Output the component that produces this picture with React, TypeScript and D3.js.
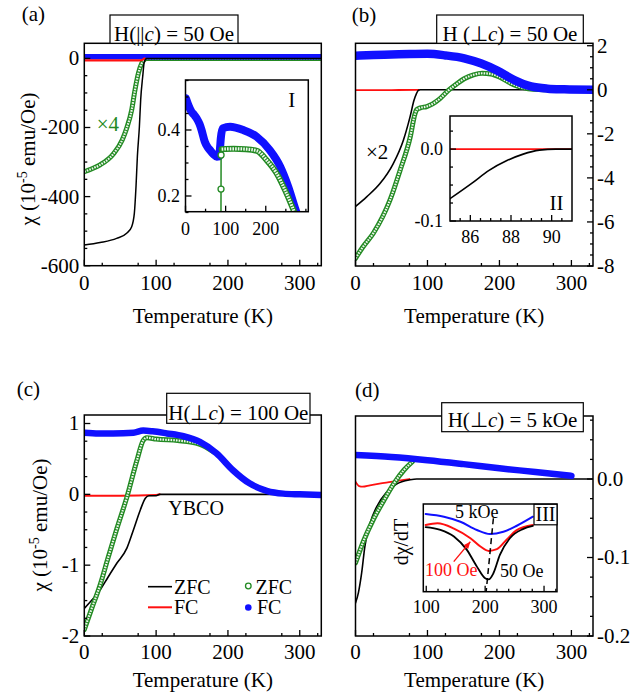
import { useEffect, useRef } from "react"
import * as d3 from "d3"

// ---- panel (a): H || c = 50 Oe ----
const aZfcT = [0, 22, 45, 59, 66, 69.7, 72, 73.9, 76.7, 78.5, 81.3, 83.6, 86.9, 100, 200, 330]
const aZfc = [-540, -533, -521, -506, -487, -448, -371, -284, -198, -120, -53, -10, 0, 0, 0, 0]
const aZfc4T = [0, 10, 22, 41, 52.8, 59, 66, 70.6, 75.3, 80, 83.3, 86, 100, 200, 330]
const aZfc4 = [-328, -320, -308, -275, -236, -202, -149, -91, -43, -14, -4, 0, 0, 0, 0]
const aFcT = [0, 40, 78, 84]
const aFc = [-6, -6, -6, 0]
const aFc2T = [0, 50, 100, 150, 200, 250, 300, 330]
const aFc2 = [5, 5, 5, 5, 5, 5, 5, 5]
// inset I
const iBlueT = [1, 7, 15, 22, 28, 35, 40, 48, 55, 61, 70, 78, 84, 86, 88, 92.7, 111, 144, 177, 210, 236, 256, 273, 282]
const iBlue = [0.496, 0.476, 0.455, 0.445, 0.435, 0.418, 0.4, 0.365, 0.348, 0.339, 0.326, 0.319, 0.32, 0.345, 0.375, 0.405, 0.41, 0.4, 0.38, 0.339, 0.289, 0.228, 0.163, 0.13]
const iGreenT = [88.3, 88.5, 88.7, 90, 120, 150, 178, 202, 227, 248, 265, 278]
const iGreen = [0.1, 0.221, 0.324, 0.342, 0.343, 0.342, 0.337, 0.309, 0.269, 0.218, 0.17, 0.13]

// ---- panel (b): H perp c = 50 Oe ----
const bBlueT = [0, 25, 50, 75, 100, 125, 151, 174, 197, 220, 244, 267, 290, 330]
const bBlue = [1.55, 1.58, 1.6, 1.62, 1.63, 1.56, 1.43, 1.2, 0.87, 0.45, 0.15, 0.05, 0.02, 0.0]
const bGreenT = [0, 10, 25, 48, 62, 76, 82.6, 85, 90, 99, 117, 129, 140, 151, 164, 176, 188, 200, 212, 225, 240, 255, 270]
const bGreen = [-7.65, -7.15, -6.5, -5.0, -3.65, -2.15, -1.1, -0.9, -0.82, -0.76, -0.41, -0.03, 0.25, 0.5, 0.68, 0.75, 0.72, 0.58, 0.36, 0.16, 0.05, 0.01, 0]
const bZfcT = [0, 15.5, 34, 52.5, 66.4, 75.7, 81.3, 85, 87.5, 90, 200, 330]
const bZfc = [-5.3, -4.86, -4.26, -3.35, -2.3, -1.24, -0.48, -0.15, -0.02, 0, 0, 0]
const bFcT = [0, 30, 60, 88]
const bFc = [-0.02, -0.02, -0.01, 0]
// inset II
const iiFcT = [85, 91]
const iiFc = [0, 0]
const iiZfcT = [85, 86.1, 86.9, 87.8, 88.6, 89.4, 90.2, 91]
const iiZfc = [-0.069, -0.047, -0.03, -0.016, -0.007, -0.0015, 0, 0]

// ---- panel (c): H perp c = 100 Oe ----
const cBlueT = [0, 20, 40, 68.5, 82, 95, 115, 138, 161, 184, 207, 230, 254, 277, 300, 330]
const cBlue = [0.87, 0.86, 0.86, 0.87, 0.9, 0.89, 0.86, 0.82, 0.74, 0.58, 0.34, 0.155, 0.05, 0.01, 0.0, -0.01]
const cGreenT = [0, 10, 22, 33, 45.5, 59.3, 73, 82, 87, 100, 130, 160, 180]
const cGreen = [-1.91, -1.62, -1.28, -0.9, -0.48, -0.04, 0.47, 0.76, 0.8, 0.78, 0.76, 0.71, 0.6]
const cZfcT = [0, 10, 22, 33, 45.5, 59.3, 68.5, 78, 85, 90, 100, 105, 200, 330]
const cZfc = [-1.61, -1.5, -1.35, -1.17, -0.97, -0.76, -0.5, -0.22, -0.056, -0.02, -0.02, 0, 0, 0]
const cFcT = [0, 50, 100, 105]
const cFc = [-0.02, -0.02, -0.01, 0]

// ---- panel (d): H perp c = 5 kOe ----
const dBlueT = [0, 50, 100, 150, 200, 250, 300]
const dBlue = [0.0306, 0.028, 0.024, 0.019, 0.0136, 0.009, 0.004]
const dGreenT = [0, 11.6, 25.6, 39.5, 53.5, 67.4, 79]
const dGreen = [-0.107, -0.078, -0.05, -0.027, -0.0055, 0.0115, 0.022]
const dZfcT = [0, 4, 8.5, 13, 20, 29, 43, 57, 76, 85, 200, 330]
const dZfc = [-0.158, -0.145, -0.12, -0.086, -0.057, -0.036, -0.017, -0.0064, -0.001, 0, 0, 0]
const dFcT = [0, 5, 10, 20, 40, 60, 75]
const dFc = [-0.0034, -0.009, -0.0098, -0.008, -0.005, -0.002, 0]
// inset III, dchi/dT (arb. units)
const iii5kT = [99, 130, 158, 186, 208, 231, 253, 281]
const iii5k = [0.886, 0.855, 0.798, 0.704, 0.658, 0.684, 0.749, 0.855]
const iii100T = [99, 119, 147, 175, 192, 206, 220, 236, 253, 281]
const iii100 = [0.76, 0.78, 0.72, 0.61, 0.515, 0.465, 0.485, 0.59, 0.7, 0.76]
const iii50T = [99, 124, 147, 169, 186, 200, 206, 214, 225, 242, 264, 281]
const iii50 = [0.737, 0.706, 0.63, 0.477, 0.286, 0.153, 0.14, 0.21, 0.42, 0.61, 0.714, 0.75]
const iiiDashT = [214, 201.7]
const iiiDash = [0.837, 0]

const FONT = "'Liberation Serif', 'Times New Roman', serif"
const BLUE = "#1010ff"
const RED = "#ff1010"
const GREEN = "#238a23"
const GREEN_IN = "#eef7ee"

type Box = { x0: number; x1: number; y0: number; y1: number }

export default function App() {
  const ref = useRef<SVGSVGElement>(null)

  useEffect(() => {
    document.body.style.margin = "0"
    const svg = d3.select(ref.current)
    svg.selectAll("*").remove()

    const makePanel = (id: string, b: Box, xd: number[], yd: number[], inset = false) => {
      const x = d3.scaleLinear().domain(xd).range([b.x0, b.x1])
      const y = d3.scaleLinear().domain(yd).range([b.y1, b.y0])
      svg.append("clipPath").attr("id", id).append("rect")
        .attr("x", b.x0).attr("y", b.y0).attr("width", b.x1 - b.x0).attr("height", b.y1 - b.y0)
      const g = svg.append("g")
      if (inset) g.append("rect").attr("x", b.x0).attr("y", b.y0).attr("width", b.x1 - b.x0).attr("height", b.y1 - b.y0).attr("fill", "#fff")
      const data = g.append("g").attr("clip-path", `url(#${id})`)
      return { x, y, g, data, b }
    }
    type P = ReturnType<typeof makePanel>

    const curve = (p: P, t: number[], v: number[], color: string, w: number, c: any = d3.curveMonotoneX, dash?: string) => {
      const line = d3.line<number>().x((d) => p.x(d)).y((_, i) => p.y(v[i])).curve(c)
      const path = p.data.append("path").attr("d", line(t)).attr("fill", "none")
        .attr("stroke", color).attr("stroke-width", w)
        .attr("stroke-linecap", "round").attr("stroke-linejoin", "round")
      if (dash) path.attr("stroke-dasharray", dash).attr("stroke-linecap", "butt")
    }
    // open-circle markers packed densely: green rim with hatched light core
    const greenBand = (p: P, t: number[], v: number[], w: number) => {
      curve(p, t, v, GREEN, w)
      curve(p, t, v, GREEN_IN, Math.max(w - 2.8, 1), d3.curveMonotoneX, "1.6,1.1")
    }

    const frame = (p: P, w = 1.5) => {
      p.g.append("rect").attr("x", p.b.x0).attr("y", p.b.y0)
        .attr("width", p.b.x1 - p.b.x0).attr("height", p.b.y1 - p.b.y0)
        .attr("fill", "none").attr("stroke", "#000").attr("stroke-width", w)
    }

    const xTicks = (p: P, major: number[], minor: number[], fs: number, off: number, fmt = (d: number) => String(d)) => {
      const all = [...major.map((d) => [d, 6]), ...minor.map((d) => [d, 3])]
      p.g.selectAll(null).data(all).enter().append("line")
        .attr("x1", (d) => p.x(d[0])).attr("x2", (d) => p.x(d[0]))
        .attr("y1", p.b.y1).attr("y2", (d) => p.b.y1 - d[1])
        .attr("stroke", "#000").attr("stroke-width", 1.3)
      p.g.selectAll(null).data(major).enter().append("text")
        .attr("x", (d) => p.x(d)).attr("y", p.b.y1 + off)
        .attr("text-anchor", "middle").attr("font-family", FONT).attr("font-size", fs)
        .text(fmt)
    }
    const yTicks = (p: P, side: "left" | "right", major: number[], minor: number[], fs: number, gap: number, fmt = (d: number) => String(d)) => {
      const all = [...major.map((d) => [d, 6]), ...minor.map((d) => [d, 3])]
      const x0 = side === "left" ? p.b.x0 : p.b.x1
      const dir = side === "left" ? 1 : -1
      p.g.selectAll(null).data(all).enter().append("line")
        .attr("y1", (d) => p.y(d[0])).attr("y2", (d) => p.y(d[0]))
        .attr("x1", x0).attr("x2", (d) => x0 + dir * d[1])
        .attr("stroke", "#000").attr("stroke-width", 1.3)
      p.g.selectAll(null).data(major).enter().append("text")
        .attr("x", side === "left" ? x0 - gap : x0 + gap).attr("y", (d) => p.y(d) + fs * 0.33)
        .attr("text-anchor", side === "left" ? "end" : "start")
        .attr("font-family", FONT).attr("font-size", fs)
        .text(fmt)
    }

    const text = (x: number, y: number, s: string, fs = 21, color = "#000", anchor = "start") =>
      svg.append("text").attr("x", x).attr("y", y).attr("font-family", FONT).attr("font-size", fs)
        .attr("fill", color).attr("text-anchor", anchor).text(s)

    const titleBox = (x: number, y: number, w: number, h: number, parts: [string, boolean][], base: number) => {
      svg.append("rect").attr("x", x).attr("y", y).attr("width", w).attr("height", h)
        .attr("fill", "#fff").attr("stroke", "#000").attr("stroke-width", 1.2)
      const t = svg.append("text").attr("x", x + w / 2).attr("y", base).attr("text-anchor", "middle")
        .attr("font-family", FONT).attr("font-size", 21)
      parts.forEach(([s, it]) => t.append("tspan").attr("font-style", it ? "italic" : "normal").text(s))
    }

    const yTitle = (cx: number, cy: number) => {
      const t = svg.append("text").attr("transform", `translate(${cx},${cy}) rotate(-90)`)
        .attr("text-anchor", "middle").attr("font-family", FONT).attr("font-size", 21)
      t.append("tspan").text("χ (10")
      t.append("tspan").attr("dy", -8).attr("font-size", 14).text("-5")
      t.append("tspan").attr("dy", 8).text(" emu/Oe)")
    }

    const range = (a: number, b: number, s: number) => d3.range(a, b + s / 2, s)
    const mainMinor = range(25, 325, 50)
    const fmtDec = (d: number) => d3.format(".1f")(d).replace("−", "-")

    // ===== (a) =====
    const A = makePanel("ca", { x0: 84.3, x1: 321.3, y0: 43.3, y1: 265.7 }, [0, 330], [-600, 43.7])
    greenBand(A, aZfc4T, aZfc4, 5)
    curve(A, aFc2T, aFc2, BLUE, 5.5)
    curve(A, aFcT, aFc, RED, 2.2)
    curve(A, aZfcT, aZfc, "#000", 1.5)
    frame(A)
    xTicks(A, [0, 100, 200, 300], mainMinor, 21, 24.3)
    yTicks(A, "left", [-600, -400, -200, 0], range(-550, 0, 50).filter((d) => d % 200 !== 0), 21, 5)
    text(96.7, 131, "×4", 21, GREEN)

    const I = makePanel("ci", { x0: 185.5, x1: 308.3, y0: 80, y1: 211.7 }, [0, 306], [0.1524, 0.5515], true)
    curve(I, iBlueT, iBlue, BLUE, 8)
    curve(I, iGreenT.slice(0, 4), iGreen.slice(0, 4), GREEN, 1.5, d3.curveLinear)
    greenBand(I, iGreenT.slice(3), iGreen.slice(3), 6)
    I.data.selectAll(null).data(iGreenT.slice(1, 3)).enter().append("circle")
      .attr("cx", (d) => I.x(d)).attr("cy", (_, i) => I.y(iGreen[i + 1]))
      .attr("r", 3).attr("fill", "#fff").attr("stroke", GREEN).attr("stroke-width", 1.3)
    frame(I)
    xTicks(I, [0, 100, 200], [50, 150, 250, 300], 18, 23.3)
    yTicks(I, "left", [0.2, 0.4], [0.15, 0.25, 0.3, 0.35, 0.45, 0.5, 0.55], 18, 5.5, (d) => d3.format(".1f")(d))
    text(291.7, 106.7, "I", 21, "#000", "middle")

    text(21.7, 21, "(a)")
    titleBox(110, 15, 128, 28.3, [["H(||", false], ["c", true], [") = 50 Oe", false]], 40.5)
    yTitle(35, 159)
    text(202.8, 323, "Temperature (K)", 21, "#000", "middle")

    // ===== (b) =====
    const B = makePanel("cb", { x0: 355.5, x1: 593, y0: 43.3, y1: 266 }, [0, 330], [-8, 2.11])
    curve(B, bFcT, bFc, RED, 1.8)
    curve(B, bZfcT, bZfc, "#000", 1.6)
    greenBand(B, bGreenT, bGreen, 5)
    curve(B, bBlueT, bBlue, BLUE, 8.5)
    frame(B)
    xTicks(B, [0, 100, 200, 300], mainMinor, 21, 24.3)
    yTicks(B, "right", [-8, -6, -4, -2, 0, 2], range(-7.5, 2, 0.5).filter((d) => d % 2 !== 0), 21, 4)
    text(366, 159.3, "×2")

    const II = makePanel("cii", { x0: 450, x1: 572, y0: 116, y1: 221 }, [85, 91], [-0.1, 0.046], true)
    curve(II, iiFcT, iiFc, RED, 1.8)
    curve(II, iiZfcT, iiZfc, "#000", 1.6)
    frame(II)
    xTicks(II, [86, 88, 90], range(85.5, 90.5, 0.5).filter((d) => d % 2 !== 0), 18, 22.3)
    yTicks(II, "left", [-0.1, 0], [-0.075, -0.05, -0.025, 0.025], 18, 7, fmtDec)
    text(556.5, 210, "II", 21, "#000", "middle")

    text(351.7, 22, "(b)")
    titleBox(436.7, 15, 146.6, 28.3, [["H (⊥", false], ["c", true], [") = 50 Oe", false]], 40.5)
    text(474.2, 323, "Temperature (K)", 21, "#000", "middle")

    // ===== (c) =====
    const C = makePanel("cc", { x0: 84.3, x1: 321.3, y0: 415, y1: 636 }, [0, 330], [-2, 1.12])
    curve(C, cFcT, cFc, RED, 2)
    curve(C, cZfcT, cZfc, "#000", 1.6)
    greenBand(C, cGreenT, cGreen, 5)
    curve(C, cBlueT, cBlue, BLUE, 6.5)
    frame(C)
    xTicks(C, [0, 100, 200, 300], mainMinor, 21, 22.5)
    yTicks(C, "left", [-2, -1, 0, 1], range(-1.75, 0.75, 0.25).filter((d) => d % 1 !== 0), 21, 5)
    text(168.3, 515, "YBCO", 20)
    // legend
    svg.append("line").attr("x1", 148).attr("x2", 172).attr("y1", 586.7).attr("y2", 586.7).attr("stroke", "#000").attr("stroke-width", 1.6)
    svg.append("line").attr("x1", 148).attr("x2", 172).attr("y1", 607.3).attr("y2", 607.3).attr("stroke", RED).attr("stroke-width", 2)
    svg.append("circle").attr("cx", 248.3).attr("cy", 586).attr("r", 2.8).attr("fill", "#fff").attr("stroke", GREEN).attr("stroke-width", 1.3)
    svg.append("circle").attr("cx", 248.3).attr("cy", 607.5).attr("r", 3.3).attr("fill", BLUE)
    text(174, 593.5, "ZFC", 20)
    text(174, 614, "FC", 20)
    text(255.5, 593.5, "ZFC", 20)
    text(257, 614, "FC", 20)

    text(16.7, 396, "(c)")
    titleBox(166.7, 393.3, 143.3, 30, [["H(⊥", false], ["c", true], [") = 100 Oe", false]], 420)
    yTitle(47, 525)
    text(202.8, 686.5, "Temperature (K)", 21, "#000", "middle")

    // ===== (d) =====
    const D = makePanel("cd", { x0: 355.5, x1: 593, y0: 416, y1: 636 }, [0, 330], [-0.2, 0.0803])
    curve(D, dFcT, dFc, RED, 1.8)
    curve(D, dZfcT, dZfc, "#000", 1.6)
    greenBand(D, dGreenT, dGreen, 5)
    curve(D, dBlueT, dBlue, BLUE, 6.5)
    frame(D)
    xTicks(D, [0, 100, 200, 300], mainMinor, 21, 22.5)
    yTicks(D, "right", [-0.2, -0.1, 0], range(-0.175, 0.075, 0.025).filter((d) => Math.abs(d * 10 - Math.round(d * 10)) > 0.01), 21, 4, fmtDec)

    const III = makePanel("ciii", { x0: 423.3, x1: 557, y0: 504, y1: 591.7 }, [95, 322], [0, 1], true)
    curve(III, iii5kT, iii5k, BLUE, 2)
    curve(III, iii100T, iii100, RED, 2)
    curve(III, iii50T, iii50, "#000", 1.8)
    curve(III, iiiDashT, iiiDash, "#000", 1.5, d3.curveLinear, "6,4")
    frame(III)
    xTicks(III, [100, 200, 300], range(120, 320, 20).filter((d) => d % 100 !== 0), 18, 21.6)
    // arrow to the 100 Oe curve
    const ax0 = III.x(146.7), ay0 = III.y(0.342), ax1 = III.x(174.8), ay1 = III.y(0.57)
    svg.append("line").attr("x1", ax0).attr("y1", ay0).attr("x2", ax1).attr("y2", ay1).attr("stroke", RED).attr("stroke-width", 1.3)
    const ang = Math.atan2(ay1 - ay0, ax1 - ax0)
    const hl = 7, hw = 3
    svg.append("path").attr("fill", RED).attr("d",
      `M${ax1},${ay1}L${ax1 - hl * Math.cos(ang) + hw * Math.sin(ang)},${ay1 - hl * Math.sin(ang) - hw * Math.cos(ang)}` +
      `L${ax1 - hl * Math.cos(ang) - hw * Math.sin(ang)},${ay1 - hl * Math.sin(ang) + hw * Math.cos(ang)}Z`)
    text(455, 518.3, "5 kOe", 18)
    text(425, 576, "100 Oe", 18, RED)
    text(500, 576.5, "50 Oe", 18)
    svg.append("rect").attr("x", 534).attr("y", 504.3).attr("width", 23).attr("height", 20.5)
      .attr("fill", "#fff").attr("stroke", "#000").attr("stroke-width", 1.2)
    text(545.5, 520.5, "III", 20, "#000", "middle")
    svg.append("text").attr("transform", "translate(408,542) rotate(-90)").attr("text-anchor", "middle")
      .attr("font-family", FONT).attr("font-size", 20).text("dχ/dT")

    text(355, 397, "(d)")
    titleBox(441.7, 402.7, 141.6, 29, [["H(⊥", false], ["c", true], [") = 5 kOe", false]], 426.7)
    text(474.2, 686.5, "Temperature (K)", 21, "#000", "middle")
  }, [])

  return <svg ref={ref} width={633} height={692} style={{ display: "block", background: "#fff" }} />
}
